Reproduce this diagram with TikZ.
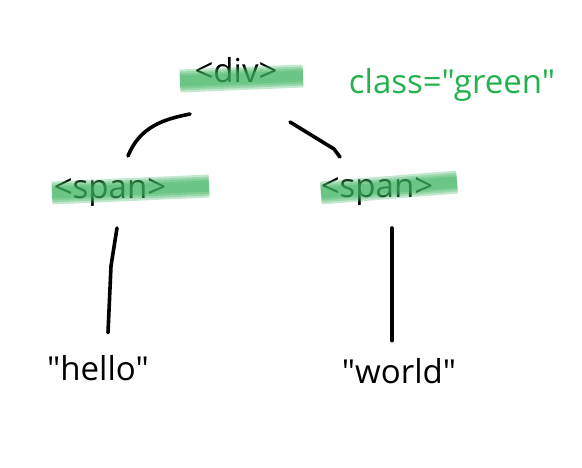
\documentclass[tikz,border=0pt]{standalone}
\usepackage{fontspec}
\setmainfont{Open Sans}[Ligatures=TeXOff]
\usepackage{tikz}
\usetikzlibrary{calc,positioning}
\definecolor{paintgreen}{RGB}{34,177,76}
\definecolor{markgreen}{RGB}{60,180,95}
\tikzset{
  word/.style={inner sep=0pt, anchor=base, font=\fontsize{33}{40}\selectfont},
  pen/.style={line width=3.6pt, line cap=round, line join=round},
  marker/.style={line width=#1, line cap=butt, markgreen, opacity=0.3},
}
\begin{document}
\begin{tikzpicture}[x=1pt,y=-1pt]
            \useasboundingbox (0,0) rectangle (582,467);
            \node[word]                   (div)   at (236,82)  {<div>};
            \node[word, text=paintgreen]  (attr)  at (452,93)  {class="green"};
            \node[word]                   (spanL) at (110,198) {<span>};
            \node[word]                   (spanR) at (377,197) {<span>};
            \node[word]                   (hello) at (98,380)  {"hello"};
            \node[word]                   (world) at (399,383) {"world"};
            % green marker strokes over the tags
            \foreach \w in {23pt,19pt,15pt,11pt}{
              \draw[marker=\w] ($(div.base)+(-56,-1)$) -- ($(div.base)+(67,-6)$);
              \draw[marker=\w] ($(spanL.base)+(-58,-5)$) -- ($(spanL.base)+(99,-12)$);
              \draw[marker=\w] ($(spanR.base)+(-56,-4)$) -- ($(spanR.base)+(80,-15)$);
            }
            % hand drawn connectors
            \coordinate (divL)   at ($(div.base)+(-46,32)$);
            \coordinate (divR)   at ($(div.base)+(54,40)$);
            \coordinate (spanLt) at ($(spanL.base)+(18,-42)$);
            \coordinate (spanRt) at ($(spanR.base)+(-37,-40)$);
            \draw[pen] (spanLt) .. controls ($(spanLt)+(12,-30)$) and ($(divL)+(-25,5)$) .. (divL);
            \draw[pen] (divR) -- ($(divR)+(44,27)$) -- (spanRt);
            \draw[pen] ($(spanL.base)+(7,30)$) -- ($(spanL.base)+(1,68)$) -- ($(hello.north)+(10,-22)$);
            \draw[pen] ($(spanR.base)+(15,31)$) -- ($(spanR.base)+(15,110)$) -- ($(world.north)+(-7,-17)$);
\end{tikzpicture}
\end{document}
